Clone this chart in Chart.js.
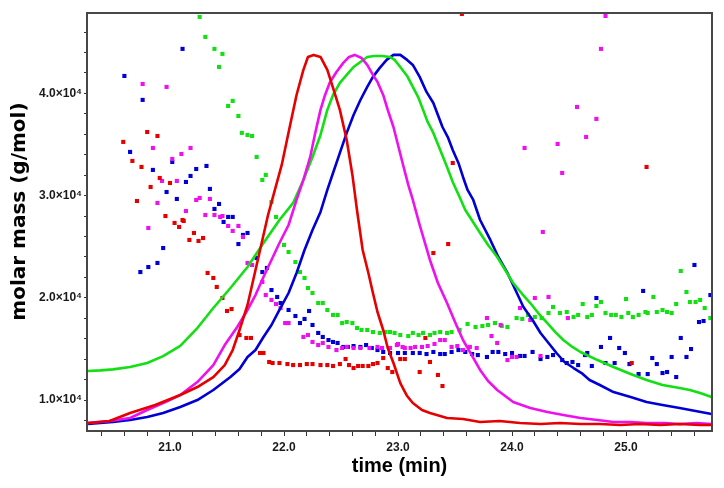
<!DOCTYPE html>
<html>
<head>
<meta charset="utf-8">
<script src="https://cdn.jsdelivr.net/npm/chart.js@4/dist/chart.umd.min.js"></script>
<style>
html,body{margin:0;padding:0;background:#fff;}
canvas{display:block;}
</style>
</head>
<body>
<canvas id="c" width="724" height="488"></canvas>
<script>
// ---- data: [time (min), molar mass (g/mol)] ----
const xTitle = 'time (min)';
const yTitle = '   molar mass (g/mol)';
const yTickValues = [8000,10000,12000,14000,16000,18000,20000,22000,24000,26000,28000,30000,32000,34000,36000,38000,40000,42000,44000,46000];
const yLabelValues = [10000, 20000, 30000, 40000];

const redLine = [[20.28,7750],[20.47,7950],[20.65,8730],[20.87,9510],[21.09,10490],[21.24,11270],[21.38,12250],[21.48,13420],[21.55,14890],[21.61,16850],[21.68,19300],[21.73,21740],[21.79,24680],[21.86,28100],[21.92,30550],[21.98,33000],[22.05,36710],[22.11,39840],[22.17,42290],[22.21,43560],[22.26,43760],[22.32,43560],[22.38,42290],[22.43,40530],[22.49,38380],[22.55,35440],[22.60,32020],[22.64,28590],[22.69,24680],[22.74,22430],[22.78,20470],[22.82,18610],[22.87,16850],[22.91,15090],[22.96,13620],[23.02,11660],[23.08,10390],[23.13,9710],[23.21,9020],[23.28,8730],[23.43,8240],[23.57,8140],[23.72,7850],[23.89,7950],[24.07,7750],[24.25,7650],[24.42,7750],[24.60,7650],[24.77,7650],[24.95,7550],[25.12,7650],[25.30,7550],[25.47,7650],[25.65,7550],[25.75,7550]];

const magentaLine = [[20.28,7750],[20.47,7950],[20.65,8240],[20.80,9020],[20.96,9800],[21.09,10490],[21.24,11760],[21.38,13420],[21.48,15380],[21.59,17140],[21.68,18810],[21.75,20270],[21.82,22040],[21.89,23700],[21.96,25360],[22.04,27120],[22.11,29570],[22.17,31530],[22.23,33780],[22.27,35930],[22.32,38380],[22.36,39840],[22.40,41020],[22.46,42090],[22.52,42980],[22.57,43560],[22.62,43760],[22.68,43460],[22.73,42780],[22.78,41800],[22.82,41120],[22.87,39840],[22.91,38380],[22.96,36710],[23.00,34950],[23.04,33190],[23.09,31040],[23.13,29570],[23.19,27120],[23.28,23700],[23.35,21450],[23.43,19490],[23.50,17630],[23.57,15870],[23.65,14310],[23.72,12940],[23.79,11860],[23.87,10980],[23.94,10390],[24.01,9800],[24.16,9220],[24.31,8830],[24.45,8530],[24.60,8240],[24.75,8040],[24.89,7850],[25.04,7850],[25.18,7750],[25.34,7750],[25.47,7650],[25.62,7750],[25.75,7650]];

const greenLine = [[20.28,12840],[20.39,12900],[20.50,13000],[20.65,13230],[20.80,13620],[20.94,14300],[21.09,15300],[21.24,17040],[21.38,19000],[21.53,20960],[21.68,23010],[21.82,25360],[21.96,27610],[22.08,29280],[22.17,31530],[22.25,33780],[22.32,35930],[22.38,38380],[22.43,39840],[22.49,41020],[22.55,41800],[22.61,42580],[22.67,43070],[22.73,43560],[22.79,43660],[22.86,43660],[22.93,43560],[22.97,43270],[23.02,42580],[23.08,41700],[23.13,40630],[23.18,39550],[23.22,38380],[23.26,37200],[23.31,36130],[23.37,34460],[23.43,32800],[23.48,31330],[23.54,29860],[23.59,28590],[23.63,27910],[23.72,26340],[23.79,25170],[23.87,23990],[23.94,22720],[24.01,21450],[24.09,20370],[24.16,19490],[24.23,18510],[24.31,17530],[24.38,16650],[24.45,15870],[24.53,15190],[24.60,14700],[24.75,13910],[24.89,13230],[25.04,12540],[25.18,11960],[25.32,11470],[25.47,11170],[25.56,10980],[25.65,10680],[25.75,10290]];

const blueLine = [[20.28,7650],[20.39,7750],[20.50,7850],[20.65,8040],[20.80,8340],[20.94,8730],[21.09,9320],[21.24,10000],[21.38,10980],[21.53,12250],[21.61,13030],[21.68,14210],[21.75,14890],[21.82,16160],[21.89,17340],[21.96,18810],[22.04,20470],[22.11,22430],[22.18,24680],[22.25,26630],[22.32,28400],[22.38,30550],[22.43,32210],[22.49,34170],[22.55,36130],[22.61,37890],[22.67,39350],[22.73,40630],[22.78,41610],[22.84,42490],[22.90,43270],[22.96,43760],[23.02,43760],[23.08,43270],[23.13,42780],[23.19,41610],[23.25,40140],[23.31,39060],[23.35,37890],[23.39,36710],[23.44,35640],[23.48,34460],[23.53,33190],[23.57,31820],[23.61,30550],[23.66,29570],[23.72,27610],[23.81,25660],[23.88,23990],[23.96,22430],[24.03,20760],[24.10,19100],[24.18,17830],[24.25,16560],[24.32,15580],[24.39,14600],[24.46,13720],[24.54,13130],[24.61,12640],[24.68,11960],[24.77,11470],[24.89,10780],[25.04,10290],[25.18,9800],[25.32,9510],[25.47,9220],[25.61,8920],[25.75,8630]];

const redPts = [[20.59,35250],[20.80,36220],[20.89,35830],[20.67,33390],[20.75,32800],[20.91,31720],[21.00,31230],[20.83,30840],[20.71,29470],[20.96,28000],[21.11,27610],[21.04,27320],[21.08,26930],[21.12,27520],[21.21,26340],[21.17,25660],[21.25,25560],[21.29,25850],[21.33,22430],[21.38,21940],[21.41,21060],[21.46,19980],[21.50,18710],[21.54,18900],[21.61,16360],[21.67,16070],[21.71,16070],[21.79,14600],[21.82,14600],[21.87,13720],[21.90,13620],[21.96,13620],[22.03,13520],[22.08,13420],[22.14,13420],[22.20,13520],[22.25,13520],[22.32,13420],[22.38,13420],[22.43,13330],[22.49,13520],[22.54,14010],[22.57,13420],[22.61,13130],[22.65,13330],[22.69,13330],[22.74,13330],[22.78,13520],[22.82,13620],[22.87,14110],[22.91,13130],[22.95,12740],[23.02,14010],[23.06,14010],[23.19,12740],[23.24,16070],[23.28,13720],[23.35,12450],[23.39,11370],[23.31,24380],[23.44,25260],[25.05,13620],[23.56,47770],[23.48,33190],[25.18,32800]];

const magentaPts = [[20.76,40920],[20.97,40630],[20.85,34660],[21.18,34660],[21.10,34070],[21.02,33580],[20.93,31430],[21.06,31430],[21.23,29570],[21.26,29770],[21.35,29670],[20.89,29280],[21.14,28490],[21.31,28100],[21.39,28100],[21.44,27910],[21.46,28000],[20.81,26830],[21.51,27030],[21.55,26540],[21.60,27030],[21.64,25950],[21.68,23410],[21.72,23210],[21.81,21550],[21.84,20270],[21.89,19790],[21.93,19390],[21.97,19000],[22.01,17530],[22.04,17530],[22.17,16170],[22.21,16360],[22.25,15680],[22.30,15380],[22.34,15580],[22.39,15190],[22.46,14890],[22.51,15090],[22.55,15190],[22.61,15090],[22.67,15090],[22.75,15090],[22.82,15190],[22.86,15090],[22.93,15090],[22.99,15380],[23.06,15090],[23.00,15480],[23.04,15190],[23.11,15090],[23.15,15190],[23.21,15190],[23.26,15280],[23.32,15480],[23.37,15870],[23.41,15870],[23.47,15190],[23.52,15280],[23.57,14890],[23.63,15190],[23.69,15090],[23.78,18020],[23.82,16260],[23.87,15580],[23.90,17340],[23.96,13910],[24.00,14210],[24.04,14210],[24.07,19000],[24.16,17830],[24.20,19980],[24.25,14310],[24.27,26440],[24.32,20080],[24.49,18020],[24.11,34660],[24.40,35050],[24.44,32210],[24.57,38670],[24.65,35730],[24.74,37500],[24.78,44350],[24.82,47570]];

const greenPts = [[21.26,47480],[21.31,45520],[21.39,44350],[21.46,43860],[21.43,42580],[21.55,39260],[21.51,38770],[21.60,37790],[21.63,36130],[21.68,35930],[21.72,35830],[21.76,33780],[21.84,32020],[21.81,31530],[21.89,29370],[21.93,27910],[22.00,25170],[22.04,24480],[22.10,23500],[22.14,22520],[22.18,21940],[22.21,20960],[22.25,20470],[22.30,19490],[22.34,19490],[22.38,18810],[22.43,18320],[22.47,18320],[22.51,17530],[22.55,17630],[22.60,17530],[22.64,17050],[22.68,16850],[22.73,16850],[22.78,16650],[22.84,16560],[22.89,16650],[22.93,16650],[22.97,16560],[23.02,16360],[23.09,16260],[23.13,16560],[23.18,16360],[23.22,16560],[23.28,16360],[23.32,16560],[23.37,16650],[23.43,16560],[23.47,16650],[23.54,16850],[23.61,17440],[23.68,17140],[23.74,17240],[23.79,17340],[23.85,17530],[23.91,17240],[23.96,17140],[24.04,18020],[24.09,17930],[24.14,18320],[24.20,18120],[24.26,18020],[24.32,18510],[24.36,19100],[24.42,18510],[24.48,18610],[24.54,18120],[24.58,18320],[24.62,19390],[24.66,18120],[24.70,18320],[24.74,19200],[24.78,19590],[24.82,18510],[24.87,18320],[24.91,18320],[24.96,18120],[25.00,19880],[25.02,18510],[25.06,18120],[25.11,18320],[25.17,18610],[25.19,18510],[25.24,20080],[25.27,18610],[25.32,18810],[25.36,18610],[25.40,18510],[25.44,19390],[25.48,22620],[25.53,20570],[25.56,19590],[25.61,19590],[25.65,19790],[25.69,19000],[25.74,18020]];

const bluePts = [[21.11,44350],[20.60,41700],[20.76,39360],[20.65,34270],[21.02,33290],[20.85,32510],[21.23,32600],[21.32,32900],[21.18,31920],[21.14,31330],[20.97,30350],[21.35,30650],[21.06,29670],[21.43,29180],[21.39,28690],[21.51,27910],[21.55,27910],[20.74,22520],[20.81,23010],[20.89,23410],[20.94,24870],[21.47,27420],[21.64,26150],[21.68,26340],[21.60,25260],[21.76,23890],[21.81,22520],[21.85,22920],[21.89,20760],[21.94,20080],[21.97,19490],[22.04,18810],[22.10,18220],[22.14,17530],[22.18,17930],[22.22,18710],[22.25,17340],[22.30,16560],[22.34,16170],[22.39,15870],[22.43,15680],[22.47,15580],[22.52,15190],[22.56,15190],[22.61,15280],[22.67,15190],[22.72,15380],[22.77,15090],[22.82,14890],[22.87,14700],[22.93,14600],[23.00,14600],[23.06,14600],[23.13,14600],[23.19,14600],[23.25,14500],[23.31,14700],[23.37,14500],[23.41,14500],[23.47,14700],[23.53,14890],[23.59,14700],[23.65,14500],[23.70,14400],[23.78,14210],[23.83,14700],[23.88,14700],[23.94,14500],[24.00,14600],[24.07,14310],[24.11,14310],[24.18,14700],[24.25,14010],[24.31,14210],[24.36,14400],[24.44,13910],[24.48,13620],[24.53,13720],[24.58,13420],[24.64,14400],[24.66,14600],[24.70,13330],[24.74,19980],[24.78,15190],[24.82,13620],[24.86,16070],[24.90,13620],[24.94,15090],[24.99,14600],[25.03,13520],[25.11,12540],[25.15,20670],[25.19,12540],[25.23,14110],[25.27,13520],[25.32,12640],[25.36,12740],[25.40,14210],[25.44,12250],[25.48,16070],[25.53,14210],[25.57,14990],[25.60,23210],[25.64,17630],[25.68,17730],[25.74,20270]];

// ---- styling ----
const RED = '#e60000', MAG = '#ee10ee', GRN = '#12e012', BLU = '#0000d6';
const toXY = a => a.map(p => ({x: p[0], y: p[1]}));

function lineDs(data, color) {
  return {data: toXY(data), showLine: true, borderColor: color, backgroundColor: color,
    borderWidth: 2.6, pointRadius: 0, tension: 0, order: 0, borderJoinStyle: 'round'};
}
function ptDs(data, color) {
  return {data: toXY(data), showLine: false, backgroundColor: color, borderColor: color,
    borderWidth: 0, pointStyle: 'rect', pointRadius: 2.9, order: 1};
}

const boxPlugin = {
  id: 'box',
  afterDatasetsDraw(chart) {
    const a = chart.chartArea, ctx = chart.ctx;
    ctx.save();
    ctx.strokeStyle = '#474747';
    ctx.lineWidth = 2;
    ctx.strokeRect(a.left, a.top, a.right - a.left, a.bottom - a.top);
    ctx.restore();
  }
};

const tickFont = {family: '"Liberation Sans", Arial, sans-serif', size: 12, weight: 'bold'};

new Chart(document.getElementById('c'), {
  type: 'scatter',
  data: {
    datasets: [
      lineDs(redLine, RED), lineDs(magentaLine, MAG), lineDs(greenLine, GRN), lineDs(blueLine, BLU),
      ptDs(redPts, RED), ptDs(magentaPts, MAG), ptDs(greenPts, GRN), ptDs(bluePts, BLU)
    ]
  },
  options: {
    responsive: false,
    animation: false,
    devicePixelRatio: 1,
    layout: {padding: {top: 13, right: 12, left: 0, bottom: 0}},
    plugins: {legend: {display: false}, tooltip: {enabled: false}},
    scales: {
      x: {
        type: 'linear', min: 20.272, max: 25.754,
        border: {display: false},
        grid: {drawOnChartArea: false, drawTicks: true, tickLength: 5, color: '#333', lineWidth: 1},
        ticks: {stepSize: 0.2, autoSkip: false, maxRotation: 0, includeBounds: false, padding: 4,
          color: '#1a1a1a', font: tickFont,
          callback: v => Math.abs(v - Math.round(v)) < 1e-6 ? Number(v).toFixed(1) : ''},
        title: {display: true, text: xTitle, color: '#000', padding: {top: 0, bottom: 10},
          font: {family: '"Liberation Sans", Arial, sans-serif', size: 20, weight: 'bold'}},
        afterFit: s => { s.height = 57; }
      },
      y: {
        type: 'linear', min: 6970, max: 47860,
        border: {display: false},
        grid: {drawOnChartArea: false, drawTicks: true, tickLength: 3, color: '#333', lineWidth: 1},
        afterBuildTicks: s => { s.ticks = yTickValues.map(v => ({value: v})); },
        ticks: {autoSkip: false, padding: 2, color: '#1a1a1a', font: tickFont,
          callback: v => yLabelValues.includes(v) ? (v / 10000).toFixed(1) + '×10⁴' : ''},
        title: {display: true, text: yTitle, color: '#000', padding: {top: 8, bottom: 0},
          font: {family: '"DejaVu Sans", sans-serif', size: 20, weight: 'bold'}},
        afterFit: s => { s.width = 87; }
      }
    }
  },
  plugins: [boxPlugin]
});
</script>
</body>
</html>
